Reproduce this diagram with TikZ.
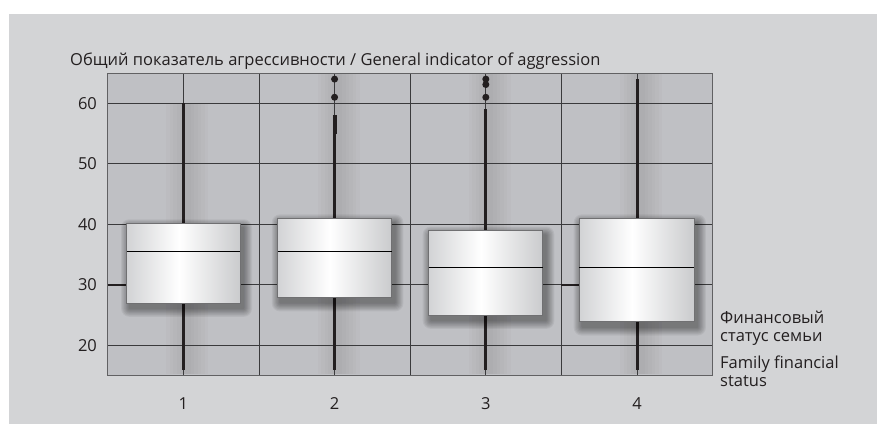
\documentclass[tikz,border=0pt]{standalone}
\usepackage{fontspec}
\setmainfont{Open Sans}
\definecolor{outerbg}{HTML}{D3D4D6}
\definecolor{plotbg}{HTML}{BFC0C4}
\definecolor{gridc}{HTML}{3A3A3C}
\definecolor{whisk}{HTML}{231F20}
\definecolor{boxedgeL}{HTML}{D2D3D5}
\definecolor{boxedgeR}{HTML}{CACBCD}
\definecolor{boxline}{HTML}{707072}
\definecolor{textc}{HTML}{231F20}
\pgfdeclarehorizontalshading{boxshade}{100bp}{color(0bp)=(boxedgeL); color(25bp)=(boxedgeL); color(48bp)=(white); color(75bp)=(boxedgeR); color(100bp)=(boxedgeR)}
\tikzset{
  gridline/.style={draw=gridc, line width=0.9pt},
  whiskerline/.style={draw=whisk, line width=3pt},
  outlier/.style={circle, fill=whisk, inner sep=0pt, minimum size=7pt},
  boxrect/.style={draw=boxline, line width=0.9pt, shading=boxshade},
  shadowlayer/.style={fill=black, opacity=0.055},
  glowlayer/.style={fill=black, opacity=0.014},
  medianline/.style={draw=black, line width=1pt},
  ticklab/.style={font=\fontsize{16.5}{19}\selectfont, text=textc},
  lab/.style={font=\fontsize{16.5}{18}\selectfont, text=textc, inner sep=0pt},
}
\newcommand\myboxshadow[4]{%
  \foreach \e in {1,...,8} {
    \fill[shadowlayer, rounded corners=\e pt]
      ([xshift=3pt-\e*1.1pt, yshift=-5pt-\e*1.1pt]#1,#2) rectangle
      ([xshift=3pt+\e*1.1pt, yshift=-5pt+\e*1.1pt]#3,#4);
  }}
\newcommand\mywhiskerglow[3]{%
  \foreach \e in {1,...,6} {
    \fill[glowlayer] ([xshift=4pt-\e*3.5pt]#1,#2) rectangle ([xshift=4pt+\e*3.5pt]#1,#3);
  }}
\begin{document}
\begin{tikzpicture}
\useasboundingbox (0pt,0pt) rectangle (877pt,424pt);
\fill[white] (0pt,0pt) rectangle (877pt,424pt);
\fill[outerbg] (9pt,0pt) rectangle (877pt,410pt);
\node[lab, anchor=base west] (title) at (70pt,359pt) {Общий показатель агрессивности / General indicator of aggression};
\begin{scope}[x=151.25pt, y=6.05pt, shift={(32.075pt,-42.3pt)}]
  \fill[plotbg] (0.5,15) rectangle (4.5,65);
  % soft glow along whiskers
  \mywhiskerglow{1}{15.2}{60}
  \mywhiskerglow{2}{15.2}{64.8}
  \mywhiskerglow{3}{15.2}{64.8}
  \mywhiskerglow{4}{15.2}{64.8}
  % grid
  \foreach \v in {20,30,40,50,60} \draw[gridline] (0.5,\v) -- (4.5,\v);
  \foreach \c in {1,1.5,2,2.5,3,3.5,4} \draw[gridline] (\c,15) -- (\c,65);
  \draw[draw=gridc!80, line width=1pt] (0.5,15) rectangle (4.5,65);
  % tick labels
  \foreach \v in {20,30,40,50,60} \node[ticklab, anchor=east, inner sep=0pt] (t\v) at (0.43,\v) {\v};
  \foreach \c in {1,2,3,4} \node[ticklab, inner sep=0pt] (c\c) at (\c,10.3) {\c};
  % whiskers
  \coordinate (w1b) at (1,16); \coordinate (w1t) at (1,60);
  \coordinate (w2b) at (2,16); \coordinate (w2t) at (2,58);
  \coordinate (w3b) at (3,16); \coordinate (w3t) at (3,59);
  \coordinate (w4b) at (4,16); \coordinate (w4t) at (4,64);
  \foreach \i in {1,2,3,4} \draw[whiskerline] (w\i b) -- (w\i t);
  \coordinate (w2a) at (2,55);
  \draw[draw=whisk, line width=4pt] (w2a) -- (w2t);
  % outliers
  \node[outlier] (o21) at (2,61) {};
  \node[outlier] (o22) at (2,64) {};
  \node[outlier] (o31) at (3,61) {};
  \node[outlier] (o32) at (3,63.1) {};
  \node[outlier] (o33) at (3,64) {};
  % thick 30 segments
  \coordinate (s1a) at (0.5,30); \coordinate (s1b) at (0.627,30);
  \coordinate (s4a) at (3.5,30); \coordinate (s4b) at (3.625,30);
  \draw[draw=whisk, line width=2.2pt] (s1a) -- (s1b);
  \draw[draw=whisk, line width=2.2pt] (s4a) -- (s4b);
  % shadows
  \myboxshadow{0.627}{27}{1.376}{40.2}
  \myboxshadow{1.623}{27.9}{2.377}{41}
  \myboxshadow{2.621}{25}{3.375}{39}
  \myboxshadow{3.619}{23.9}{4.377}{41}
  % boxes
  \path[boxrect] (0.627,27) rectangle (1.376,40.2);
  \path[boxrect] (1.623,27.9) rectangle (2.377,41);
  \path[boxrect] (2.621,25) rectangle (3.375,39);
  \path[boxrect] (3.619,23.9) rectangle (4.377,41);
  \coordinate (m1a) at (0.627,35.5); \coordinate (m1b) at (1.376,35.5);
  \coordinate (m2a) at (1.623,35.5); \coordinate (m2b) at (2.377,35.5);
  \coordinate (m3a) at (2.621,32.9); \coordinate (m3b) at (3.375,32.9);
  \coordinate (m4a) at (3.619,32.9); \coordinate (m4b) at (4.377,32.9);
  \foreach \i in {1,2,3,4} \draw[medianline] (m\i a) -- (m\i b);
\end{scope}
\node[lab, anchor=base west, align=left] (rl1) at (720pt,82.3pt) {Финансовый\\статус семьи};
\node[lab, anchor=base west, align=left] (rl2) at (720pt,37.3pt) {Family financial\\status};
\end{tikzpicture}
\end{document}
